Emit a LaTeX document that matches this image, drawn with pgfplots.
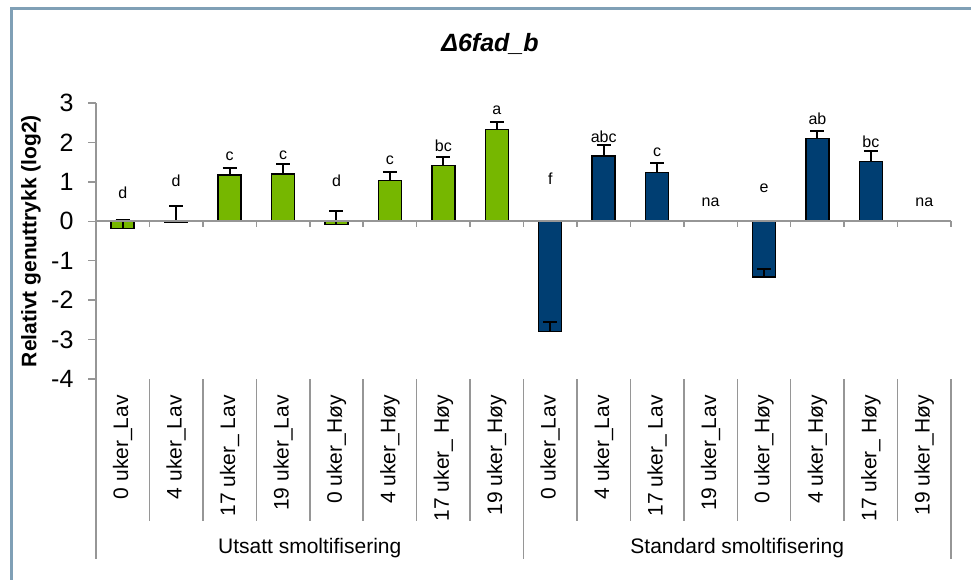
\documentclass[border=0pt]{standalone}
\usepackage{fontspec}
\setmainfont{Liberation Sans}
\usepackage{pgfplots}
\pgfplotsset{compat=1.18}

\definecolor{barGreen}{RGB}{118,183,0}
\definecolor{barBlue}{RGB}{0,62,114}
\definecolor{axGray}{RGB}{150,150,150}
\definecolor{frameBlue}{RGB}{128,160,182}

\begin{document}
\begin{tikzpicture}
\useasboundingbox (0pt,0pt) rectangle (971pt,579pt);
\fill[white] (0pt,0pt) rectangle (971pt,579pt);
\draw[frameBlue, line width=3pt] (11pt,-5pt) -- (11pt,570pt) -- (980pt,570pt);

\begin{axis}[
    at={(96pt,200pt)}, anchor=south west,
    scale only axis, width=855pt, height=276pt,
    xmin=-0.5, xmax=15.5, ymin=-4, ymax=3,
    clip=false,
    axis y line*=left, axis x line*=bottom,
    x axis line style={draw=none},
    y axis line style={axGray, line width=1.5pt},
    ytick={-4,-3,...,3},
    ytick style={axGray, line width=1.5pt},
    tick align=outside, major tick length=8pt,
    yticklabel style={xshift=-11pt, font=\fontsize{25}{29}\selectfont, /pgf/number format/assume math mode=true},
    xtick={0,...,15},
    xtick style={draw=none},
    xticklabels={0 uker\_Lav, 4 uker\_Lav, 17 uker\_ Lav, 19 uker\_Lav,
                 0 uker\_Høy, 4 uker\_Høy, 17 uker\_ Høy, 19 uker\_Høy,
                 0 uker\_Lav, 4 uker\_Lav, 17 uker\_ Lav, 19 uker\_Lav,
                 0 uker\_Høy, 4 uker\_Høy, 17 uker\_ Høy, 19 uker\_Høy},
    xticklabel style={yshift=-8pt, rotate=90, anchor=east, inner sep=0pt, font=\fontsize{21}{25}\selectfont},
    ylabel={\textbf{Relativt genuttrykk (log2)}},
    ylabel style={at={(axis description cs:-0.076,0.5)}, anchor=center, font=\fontsize{21}{25}\selectfont},
    title={\textbf{\textit{Δ6fad\_b}}},
    title style={at={(axis description cs:0.4608,1.192)}, anchor=center, font=\fontsize{25}{30}\selectfont},
    ybar, bar width=23pt, bar shift=0pt,
]
\addplot[fill=barGreen, draw=black, line width=1.5pt,
    error bars/.cd, y dir=plus, y explicit,
    error bar style={line width=2pt, black},
    error mark options={rotate=90, mark size=7pt, line width=2pt, black}]
  coordinates {
    (0,-0.18) +- (0,0.22)
    (1,-0.02) +- (0,0.40)
    (2,1.18)  +- (0,0.18)
    (3,1.20)  +- (0,0.26)
    (4,-0.08) +- (0,0.33)
    (5,1.04)  +- (0,0.20)
    (6,1.41)  +- (0,0.21)
    (7,2.33)  +- (0,0.20)
  };
\addplot[fill=barBlue, draw=black, line width=1.5pt,
    error bars/.cd, y dir=plus, y explicit,
    error bar style={line width=2pt, black},
    error mark options={rotate=90, mark size=7pt, line width=2pt, black}]
  coordinates {
    (8,-2.80)  +- (0,0.25)
    (9,1.65)   +- (0,0.29)
    (10,1.24)  +- (0,0.25)
    (12,-1.41) +- (0,0.21)
    (13,2.10)  +- (0,0.18)
    (14,1.52)  +- (0,0.27)
  };
% significance letters
\addplot[draw=none, mark=none, nodes near coords, point meta=explicit symbolic,
    every node near coord/.append style={anchor=center, black, font=\fontsize{16}{19}\selectfont}]
  coordinates {
    (0,0.73)[d] (1,1.03)[d] (2,1.65)[c] (3,1.67)[c]
    (4,1.03)[d] (5,1.54)[c] (6,1.92)[bc] (7,2.82)[a]
    (8,1.08)[f] (9,2.14)[abc] (10,1.74)[c] (11,0.49)[na]
    (12,0.85)[e] (13,2.60)[ab] (14,2.01)[bc] (15,0.49)[na]
  };
% zero line with small ticks
\draw[axGray, line width=2pt] (axis cs:-0.5,0) -- (axis cs:15.5,0);
\pgfplotsinvokeforeach{-0.5,0.5,...,15.5}{
  \draw[axGray, line width=1.5pt] (axis cs:#1,0) -- ++(0pt,-6pt);
}
% category separators
\pgfplotsinvokeforeach{0.5,1.5,...,6.5,8.5,9.5,...,14.5}{
  \draw[axGray, line width=1.5pt] (axis cs:#1,-4) -- ++(0pt,-142pt);
}
\pgfplotsinvokeforeach{-0.5,7.5,15.5}{
  \draw[axGray, line width=1.5pt] (axis cs:#1,-4) -- ++(0pt,-180pt);
}
\node[font=\fontsize{21}{25}\selectfont] at ({axis cs:3.5,0} |- {axis description cs:0,-0.612}) {Utsatt smoltifisering};
\node[font=\fontsize{21}{25}\selectfont] at ({axis cs:11.5,0} |- {axis description cs:0,-0.612}) {Standard smoltifisering};
\end{axis}
\end{tikzpicture}
\end{document}
